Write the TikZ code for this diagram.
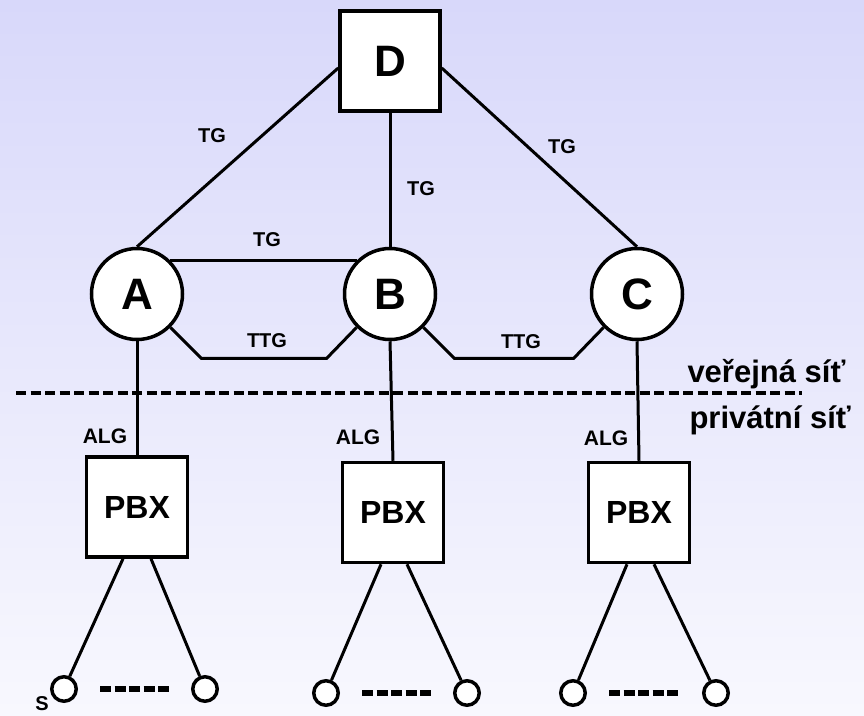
\documentclass[tikz,border=0pt]{standalone}
\usepackage{fontspec}
\setmainfont{Liberation Sans}
\usetikzlibrary{positioning}
\definecolor{skytop}{HTML}{D8D8FA}
\definecolor{skybottom}{HTML}{F8F8FE}

\begin{document}
\begin{tikzpicture}[x=1pt,y=-1pt,line width=3pt,font=\bfseries]
	\tikzstyle{exchange}=[draw,rectangle,fill=white,line width=3.5pt,minimum size=100pt,font=\bfseries\fontsize{44}{44}\selectfont]
	\tikzstyle{office}=[draw,circle,fill=white,line width=3.5pt,minimum size=91pt,inner sep=0pt,font=\bfseries\fontsize{44}{44}\selectfont]
	\tikzstyle{pbx}=[draw,rectangle,fill=white,line width=3.5pt,minimum width=101pt,minimum height=100pt,font=\bfseries\fontsize{32}{32}\selectfont]
	\tikzstyle{station}=[draw,circle,fill=white,line width=3.5pt,minimum size=24.5pt,inner sep=0pt]
	\tikzstyle{trunk}=[inner sep=0pt,font=\bfseries\fontsize{20}{20}\selectfont]
	\tikzstyle{netname}=[inner sep=0pt,anchor=base west,font=\bfseries\fontsize{31}{31}\selectfont]
	\tikzstyle{divider}=[line width=4pt,dash pattern=on 10pt off 4.5pt]
	\tikzstyle{morestations}=[line width=6pt,dash pattern=on 11pt off 3.5pt]

	\useasboundingbox[shade,top color=skytop,bottom color=skybottom] (0,0) rectangle (864,715);

	% public network
	\node[exchange](transit_d) at (390,61){D};
	\node[office](local_a) at (137,294){A};
	\node[office](local_b) at (390,294){B};
	\node[office](local_c) at (637,294){C};

	% private branch exchanges
	\node[pbx,below=114pt of local_a.south,anchor=north](pbx_a){PBX};
	\node[pbx](pbx_b) at (393,512.5){PBX};
	\node[pbx](pbx_c) at (639,512.5){PBX};

	% subscriber stations
	\node[station](st_a1) at (64,689){};
	\node[station](st_a2) at (205,689){};
	\node[station](st_b1) at (326,693){};
	\node[station](st_b2) at (467,693){};
	\node[station](st_c1) at (573,693){};
	\node[station](st_c2) at (716,693){};

	% trunk labels
	\node[trunk](tg_da) at (212,136){TG};
	\node[trunk](tg_db) at (421,189){TG};
	\node[trunk](tg_dc) at (562,147){TG};
	\node[trunk](tg_ab) at (267,240){TG};
	\node[trunk](ttg_ab) at (267,341){TTG};
	\node[trunk](ttg_bc) at (521,342){TTG};
	\node[trunk,font=\bfseries\fontsize{21}{21}\selectfont](alg_a) at (105,436){ALG};
	\node[trunk,font=\bfseries\fontsize{21}{21}\selectfont](alg_b) at (358,437){ALG};
	\node[trunk,font=\bfseries\fontsize{21}{21}\selectfont](alg_c) at (606,438){ALG};
	\node[trunk](st_label) at (42,704){S};

	\node[netname](public_net) at (686,382){veřejná síť};
	\node[netname](private_net) at (688,428){privátní síť};

	\coordinate(div_left) at (16,393);
	\coordinate(div_right) at (802,393);
	\draw[divider](div_left) -- (div_right);

	\draw([yshift=-7pt]transit_d.west) -- (local_a.north);
	\draw(transit_d.south) -- (local_b.north);
	\draw([yshift=-7pt]transit_d.east) -- (local_c.north);

	\draw(local_a.north east) -- (local_b.north west);
	\draw(local_a.south east) -- ++(31,31) -- ([xshift=-30pt,yshift=-31pt]local_b.south west) -- (local_b.south west);
	\draw(local_b.south east) -- ++(31,31) -- ([xshift=-30pt,yshift=-31pt]local_c.south west) -- (local_c.south west);

	\draw(local_a.south) -- (pbx_a.north);
	\draw(local_b.south) -- (pbx_b.north);
	\draw(local_c.south) -- (pbx_c.north);

	\draw([xshift=-14pt]pbx_a.south) -- (st_a1);
	\draw([xshift=14pt]pbx_a.south) -- (st_a2);
	\draw([xshift=-12pt]pbx_b.south) -- (st_b1);
	\draw([xshift=14pt]pbx_b.south) -- (st_b2);
	\draw([xshift=-12pt]pbx_c.south) -- (st_c1);
	\draw([xshift=15pt]pbx_c.south) -- (st_c2);

	\draw[morestations,shorten <=22pt,shorten >=22pt](st_a1) -- (st_a2);
	\draw[morestations,shorten <=22pt,shorten >=22pt](st_b1) -- (st_b2);
	\draw[morestations,shorten <=22pt,shorten >=22pt](st_c1) -- (st_c2);
\end{tikzpicture}
\end{document}
